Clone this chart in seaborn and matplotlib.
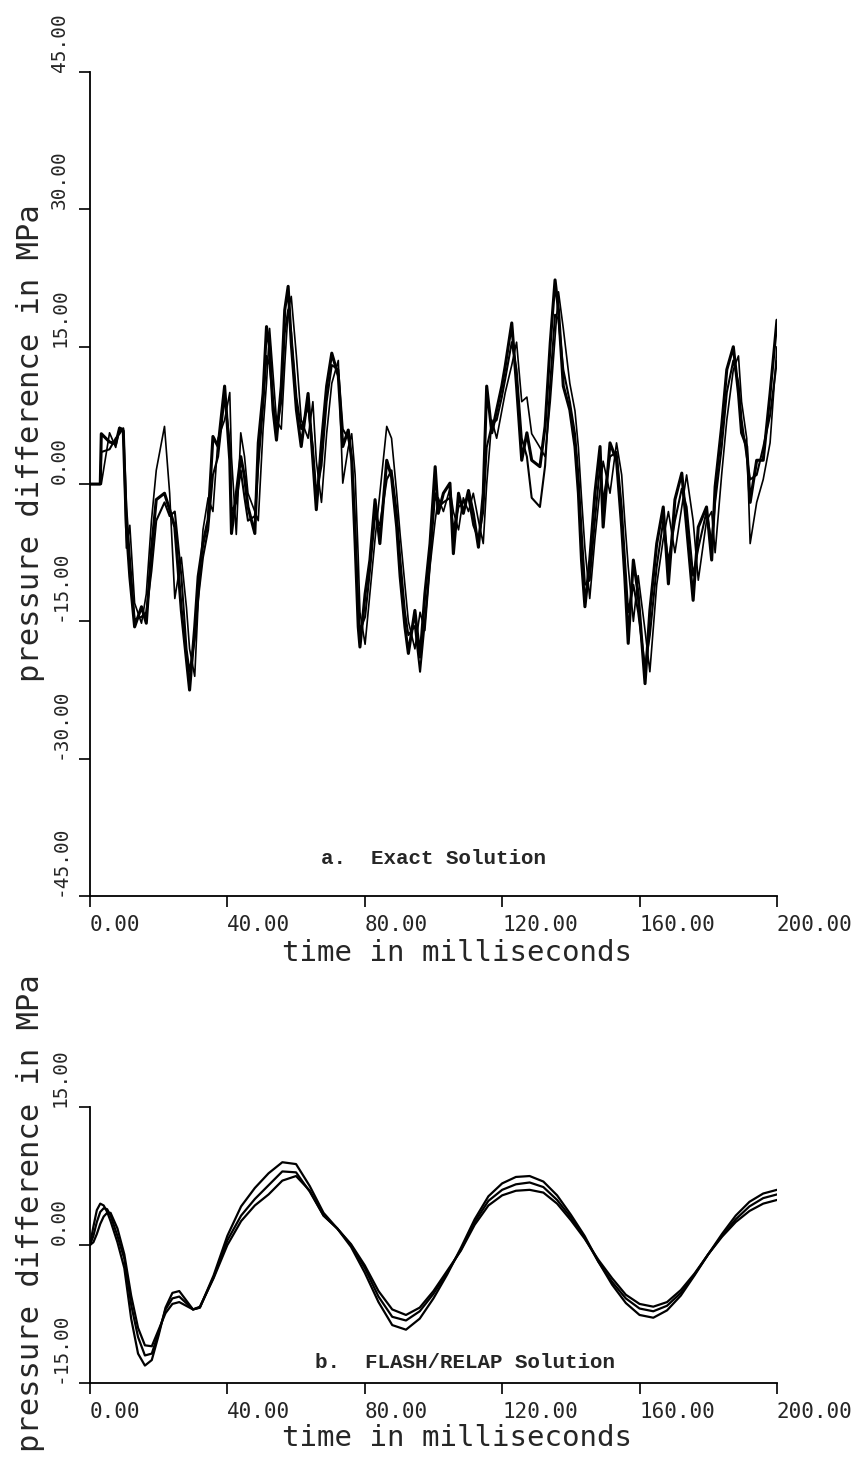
import matplotlib
matplotlib.use("Agg")
import matplotlib.pyplot as plt
import seaborn as sns
import numpy as np

# ---------------- data: panel a (exact solution) ----------------
t_exact = [0, 3, 3.3, 5.7, 7.5, 8.6, 9.7, 10.6, 11.6, 13, 15, 16.4, 17.9, 19.3, 21.7,
           23.2, 24.7, 26.6, 28.1, 29, 30.5, 31.5, 32.9, 34.4, 35.8, 37.3, 39.2, 40.7,
           41.2, 42.6, 43.9, 45, 46, 48, 49, 50.4, 51.4, 52.3, 53.3, 54.3, 55.7, 56.7,
           57.7, 58.6, 60.1, 61.5, 63.5, 64.9, 65.9, 67.4, 68.9, 70.4, 72.3, 73.6, 75.2,
           76.2, 77.2, 78.1, 78.6, 80.1, 81.5, 83, 84.4, 86.4, 87.8, 89.3, 90.3, 91.7,
           92.7, 94.6, 96.1, 97.5, 99, 100.5, 101.4, 102.9, 104.8, 105.8, 107.3, 108.7,
           110.2, 111.6, 113.1, 114.5, 115.5, 117, 118.4, 119.9, 120.9, 122.8, 124.2,
           125.7, 127.2, 128.6, 131, 132.5, 134, 135.4, 136.4, 137.8, 139.7, 141.2,
           142.2, 143.1, 144.1, 145.5, 147, 148.5, 149.4, 151.4, 153.3, 154.8, 155.7,
           156.7, 158.2, 159.6, 161.6, 163, 165, 166.9, 168.4, 170.3, 172.3, 173.7,
           175.6, 177.1, 179.5, 181, 182, 183.9, 185.4, 187.3, 188.8, 189.7, 191.2,
           192.2, 194.1, 196, 198, 200]

p_exact_1 = [0, 0, 5.5, 4.6, 4.4, 6.1, 5.8, -4.7, -10.1, -15.6, -13.4, -15.2, -7.2, -1.7, -1.0,
             -2.8, -4.7, -13.8, -19.3, -22.5, -15.6, -10.1, -6.5, -3.9, 5.2, 4.1, 10.7, 2.6,
             -5.4, -1.0, 3.0, 0.8, -2.5, -5.4, 4.5, 9.9, 17.2, 15.0, 8.1, 4.8, 10.7, 19.0,
             21.6, 15.4, 8.1, 4.1, 9.9, 2.6, -2.8, 4.5, 10.7, 14.3, 11.8, 4.1, 5.9,
             2.6, -6.5, -15.6, -17.8, -12.0, -8.3, -1.7, -6.5, 2.6, 0.8, -4.7, -10.1, -15.6,
             -18.5, -13.8, -18.9, -12.0, -6.5, 1.9, -3.2, -1.0, 0.1, -7.6, -1.0, -3.2,
             -0.7, -3.2, -6.9, -1.0, 10.7, 5.6, 8.1, 10.7, 12.9, 17.6, 10.7,
             2.6, 5.6, 2.6, 1.9, 6.3, 15.4, 22.3, 19.0, 10.7, 8.1, 4.1,
             -1.0, -8.3, -13.4, -8.3, -1.0, 4.1, -4.7, 4.5, 2.6, -4.7, -10.1,
             -17.4, -8.3, -12.0, -21.8, -13.8, -6.5, -2.5, -10.9, -1.7, 1.2, -4.7,
             -12.7, -4.7, -2.5, -8.3, -0.3, 6.3, 12.5, 15.0, 9.9, 5.6, 4.1,
             -2.0, 2.6, 2.6, 9.9, 17.9]

p_exact_2 = [0, 0, 0, 5.6, 4.0, 6.2, 6.0, -7.0, -4.5, -13.0, -15.2, -12.0, -4.0, 1.5, 6.3,
             -1.0, -12.5, -8.0, -13.5, -18.0, -21.0, -13.0, -5.0, -1.5, -3.0, 5.0, 7.0, 10.0,
             3.0, -5.5, 5.6, 3.0, -1.0, -3.0, -4.0, 6.0, 11.0, 17.0, 12.0, 7.0, 6.0, 13.0,
             19.0, 20.5, 14.0, 7.0, 5.0, 9.0, 2.5, -2.0, 5.5, 11.0, 13.5, 0.1, 4.0,
             5.5, 1.0, -8.0, -14.0, -17.5, -12.0, -6.0, -1.0, 6.3, 5.0, -1.0, -5.5, -11.0,
             -15.0, -18.0, -14.0, -16.0, -9.0, -4.0, -1.5, -3.0, -0.5, -3.0, -5.0, -1.5,
             -3.0, -1.0, -4.0, -6.5, 0.0, 7.0, 5.0, 8.0, 10.0, 13.0, 15.5,
             9.0, 9.5, 5.5, 4.0, 3.0, 9.0, 16.0, 21.0, 17.0, 11.0, 8.0,
             4.0, -1.5, -7.0, -12.5, -6.0, -0.5, 2.5, -1.0, 4.5, 1.0, -4.0,
             -9.0, -15.0, -10.0, -16.0, -20.5, -11.0, -6.0, -3.0, -7.5, -2.5, 1.0,
             -4.0, -10.5, -4.0, -3.0, -7.5, 1.0, 7.0, 12.5, 14.0, 9.0, 5.0,
             -6.5, -2.0, 0.5, 4.5, 15.0]

p_exact_3 = [0, 0, 3.5, 3.8, 5.0, 5.5, 6.1, -2.5, -8.0, -14.8, -14.5, -14.0, -9.5, -4.0, -2.0,
             -3.5, -3.0, -10.0, -18.0, -20.5, -17.0, -12.5, -8.0, -5.0, 1.0, 3.0, 9.5, 4.5,
             -3.0, -2.0, 1.5, -1.5, -4.0, -3.5, 2.0, 8.5, 14.0, 13.0, 9.0, 6.0, 9.0, 16.5,
             19.0, 16.5, 9.5, 6.0, 8.5, 4.0, -1.0, 2.0, 9.0, 13.0, 12.5, 6.0, 5.0,
             3.0, -4.0, -13.0, -16.0, -14.5, -9.5, -3.5, -4.5, 0.5, 1.5, -3.0, -8.0, -14.0,
             -16.5, -15.5, -20.5, -15.0, -8.5, -1.0, -2.5, -2.0, -1.5, -5.0, -2.5, -2.0,
             -1.5, -4.5, -6.0, -3.0, 4.0, 6.5, 7.0, 9.5, 11.5, 15.5, 12.5,
             5.0, 3.0, -1.5, -2.5, 2.0, 11.0, 18.5, 18.0, 12.5, 9.0, 5.5,
             1.0, -5.0, -11.0, -10.5, -4.0, 2.0, -2.0, 3.0, 3.5, -2.5, -8.0,
             -14.0, -11.0, -14.0, -20.0, -16.5, -9.0, -4.0, -8.5, -4.0, -0.5, -2.5,
             -10.0, -7.0, -3.0, -6.5, -2.0, 4.0, 10.0, 13.5, 11.0, 7.0, 3.0,
             0.5, 1.0, 4.0, 7.5, 13.5]

# ---------------- data: panel b (FLASH/RELAP solution) ----------------
t_relap = [0, 1, 2, 3, 4, 5, 6, 8, 10, 12, 14, 16, 18, 20, 22, 24, 26, 28, 30, 32,
           36, 40, 44, 48, 52, 56, 60, 64, 68, 72, 76, 80, 84, 88, 92, 96, 100, 104,
           108, 112, 116, 120, 124, 128, 132, 136, 140, 144, 148, 152, 156, 160, 164,
           168, 172, 176, 180, 184, 188, 192, 196, 200]

p_relap_a = [0, 2.0, 3.8, 4.5, 4.3, 3.6, 2.6, 0.3, -2.5, -8.0, -11.8, -13.1, -12.5, -9.8, -6.8,
             -5.2, -5.0, -6.0, -7.0, -6.8, -3.3, 1.0, 4.2, 6.2, 7.8, 9.0, 8.8, 6.4, 3.5, 1.8,
             -0.2, -3.0, -6.2, -8.7, -9.2, -8.0, -5.8, -3.2, -0.3, 2.8, 5.3, 6.7, 7.4, 7.5,
             6.9, 5.4, 3.3, 1.0, -1.8, -4.3, -6.3, -7.6, -7.9, -7.1, -5.5, -3.3, -1.0, 1.2,
             3.2, 4.7, 5.6, 6.0]

p_relap_b = [0, 1.0, 2.5, 3.6, 4.0, 3.9, 3.2, 1.0, -1.5, -6.5, -10.0, -12.0, -11.8, -9.5, -7.0,
             -5.8, -5.6, -6.3, -7.0, -6.8, -3.5, 0.5, 3.2, 5.0, 6.5, 8.0, 7.9, 5.8, 3.2, 1.8,
             0.0, -2.5, -5.6, -7.8, -8.2, -7.2, -5.3, -3.0, -0.5, 2.5, 4.8, 6.0, 6.6, 6.8,
             6.3, 4.9, 3.0, 0.8, -1.8, -4.0, -5.8, -6.9, -7.2, -6.6, -5.2, -3.2, -1.0, 1.0,
             2.8, 4.2, 5.1, 5.5]

p_relap_c = [0, 0.3, 1.2, 2.3, 3.1, 3.5, 3.5, 1.8, -1.0, -5.5, -9.0, -10.9, -11.0, -9.2, -7.4,
             -6.4, -6.2, -6.6, -7.0, -6.7, -3.6, 0.0, 2.6, 4.3, 5.5, 7.0, 7.5, 5.9, 3.2, 1.8,
             0.1, -2.2, -5.0, -7.0, -7.6, -6.8, -5.0, -2.8, -0.6, 2.2, 4.3, 5.4, 5.9, 6.0,
             5.7, 4.5, 2.7, 0.7, -1.6, -3.6, -5.4, -6.4, -6.7, -6.2, -4.9, -3.1, -1.0, 0.9,
             2.5, 3.7, 4.5, 4.9]

x_ticks = [0, 40, 80, 120, 160, 200]
x_tick_labels = ["0.00", "40.00", "80.00", "120.00", "160.00", "200.00"]
y_ticks_a = [-45, -30, -15, 0, 15, 30, 45]
y_tick_labels_a = ["-45.00", "-30.00", "-15.00", "0.00", "15.00", "30.00", "45.00"]
y_ticks_b = [-15, 0, 15]
y_tick_labels_b = ["-15.00", "0.00", "15.00"]

xlabel_text = "time in milliseconds"
ylabel_text = "pressure difference in MPa"
title_a = "a.  Exact Solution"
title_b = "b.  FLASH/RELAP Solution"

# ---------------- styling ----------------
sns.set_style("ticks")
plt.rcParams["font.family"] = ["DejaVu Sans Mono", "DejaVu Sans"]
MONO = ["DejaVu Sans Mono", "DejaVu Sans"]
TITLEFONT = ["Liberation Mono", "DejaVu Sans Mono"]

fig = plt.figure(figsize=(8.65, 14.62), dpi=100)
ax_a = fig.add_axes([0.1040, 0.3871, 0.7942, 0.5636])
ax_b = fig.add_axes([0.1040, 0.0540, 0.7942, 0.1888])

for yy, lw in [(p_exact_2, 1.2), (p_exact_3, 1.5), (p_exact_1, 2.2)]:
    sns.lineplot(x=t_exact, y=yy, ax=ax_a, color="black", linewidth=lw,
                 estimator=None, sort=False)

for yy in [p_relap_a, p_relap_b, p_relap_c]:
    sns.lineplot(x=t_relap, y=yy, ax=ax_b, color="black", linewidth=1.6,
                 estimator=None, sort=False)


def style_axis(ax, yticks, ylabels, ylim, title, title_x, title_y, xl_y, yl_y):
    ax.set_xlim(0, 200)
    ax.set_ylim(*ylim)
    sns.despine(ax=ax)
    for sp in ["left", "bottom"]:
        ax.spines[sp].set_linewidth(1.3)
        ax.spines[sp].set_color("black")
    ax.set_xticks(x_ticks)
    ax.set_xticklabels(x_tick_labels, ha="left", fontsize=15, family=MONO)
    ax.set_yticks(yticks)
    ax.set_yticklabels(ylabels, rotation=90, va="bottom", ha="right",
                       fontsize=14, family=MONO)
    ax.tick_params(axis="both", direction="out", length=8, width=1.2, color="black")
    ax.tick_params(axis="x", pad=5.5)
    ax.tick_params(axis="y", pad=7)
    ax.set_xlabel(xlabel_text, fontsize=21, family=MONO, va="top")
    ax.xaxis.set_label_coords(0.534, xl_y)
    ax.set_ylabel(ylabel_text, fontsize=22, family=MONO, va="center", ha="center")
    ax.yaxis.set_label_coords(-0.087, yl_y)
    ax.text(title_x, title_y, title, transform=ax.transAxes, ha="center", va="center",
            fontsize=15, fontweight="bold", family=TITLEFONT)
    ax.grid(False)


style_axis(ax_a, y_ticks_a, y_tick_labels_a, (-45, 45), title_a, 0.5, 0.046,
           -0.052, 0.55)
style_axis(ax_b, y_ticks_b, y_tick_labels_b, (-15, 15), title_b, 0.546, 0.076,
           -0.1486, 0.616)

fig.savefig("out.png", dpi=100, facecolor="white")
